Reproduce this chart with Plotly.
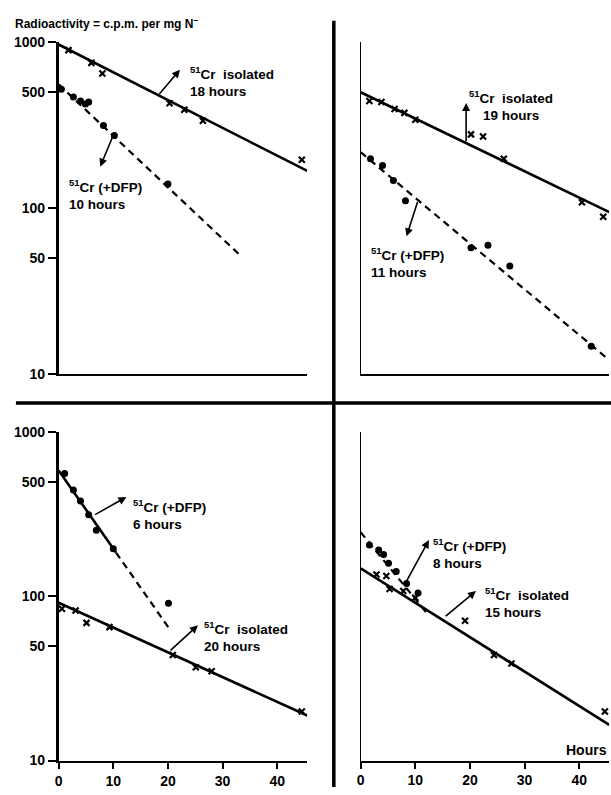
import plotly.graph_objects as go

# ---------------- data ----------------
# Panel A (top-left)
A_iso_x = [1.8, 6.0, 8.0, 20.3, 23.0, 26.4, 44.5]
A_iso_y = [897, 752, 648, 430, 392, 337, 196]
A_iso_fit_x = [0, 45.5]
A_iso_fit_y = [970, 168]
A_dfp_x = [0.5, 2.7, 4.0, 4.9, 5.5, 8.2, 10.2, 20.0]
A_dfp_y = [521, 468, 443, 425, 437, 315, 275, 140]
A_dfp_fit_x = [0, 33]
A_dfp_fit_y = [558, 53]

# Panel B (top-right)
B_iso_x = [1.6, 3.8, 6.2, 8.0, 10.0, 20.2, 22.4, 26.2, 40.5, 44.4]
B_iso_y = [443, 437, 397, 376, 342, 279, 271, 199, 109, 89]
B_iso_fit_x = [0, 45.5]
B_iso_fit_y = [500, 95]
B_dfp_x = [1.8, 4.0, 6.0, 8.2, 20.2, 23.3, 27.3, 42.2]
B_dfp_y = [199, 181, 147, 111, 58, 60, 45, 14.8]
B_dfp_fit_x = [0, 45.5]
B_dfp_fit_y = [218, 12.2]

# Panel C (bottom-left)
C_dfp_x = [1.1, 2.7, 4.0, 5.5, 6.9, 10.0, 20.1]
C_dfp_y = [561, 445, 382, 315, 253, 195, 91]
C_dfp_solid_x = [0, 10.5]
C_dfp_solid_y = [585, 185]
C_dfp_dash_x = [10.5, 20.2]
C_dfp_dash_y = [185, 64]
C_iso_x = [0.6, 3.1, 5.1, 9.3, 20.9, 25.1, 28.0, 44.5]
C_iso_y = [84, 82, 69, 65, 44, 37, 35, 19.9]
C_iso_fit_x = [0, 45.5]
C_iso_fit_y = [91.5, 18.8]

# Panel D (bottom-right)
D_dfp_x = [1.6, 3.3, 4.2, 5.1, 6.5, 8.4, 10.5]
D_dfp_y = [206, 192, 180, 159, 142, 120, 105]
D_dfp_fit_x = [0, 12]
D_dfp_fit_y = [246, 80]
D_iso_x = [2.9, 4.7, 5.3, 7.8, 10.0, 19.1, 24.4, 27.6, 44.7]
D_iso_y = [136, 133, 111, 108, 98, 71, 44, 39, 19.9]
D_iso_fit_x = [0, 45.5]
D_iso_fit_y = [148, 16.5]

y_tickvals = [10, 50, 100, 500, 1000]
y_ticktext = ["10", "50", "100", "500", "1000"]
x_tickvals = [0, 10, 20, 30, 40]
x_ticktext = ["0", "10", "20", "30", "40"]

# ---------------- figure ----------------
W, H = 611, 795
FONT = "Liberation Sans, Arial, sans-serif"

fig = go.Figure()

def cross(x, y, ax):
    fig.add_trace(go.Scatter(x=x, y=y, mode="markers", xaxis="x" + ax, yaxis="y" + ax,
                             marker=dict(symbol="x-thin", size=6, line=dict(color="black", width=2.2)),
                             showlegend=False, hoverinfo="skip", cliponaxis=False))

def dots(x, y, ax):
    fig.add_trace(go.Scatter(x=x, y=y, mode="markers", xaxis="x" + ax, yaxis="y" + ax,
                             marker=dict(symbol="circle", size=7, color="black"),
                             showlegend=False, hoverinfo="skip", cliponaxis=False))

def line(x, y, ax, dash="solid", width=2.6):
    fig.add_trace(go.Scatter(x=x, y=y, mode="lines", xaxis="x" + ax, yaxis="y" + ax,
                             line=dict(color="black", width=width, dash=dash),
                             showlegend=False, hoverinfo="skip"))

DASH = "7px,5px"
# A
line(A_iso_fit_x, A_iso_fit_y, "")
line(A_dfp_fit_x, A_dfp_fit_y, "", DASH, 2.2)
cross(A_iso_x, A_iso_y, "")
dots(A_dfp_x, A_dfp_y, "")
# B
line(B_iso_fit_x, B_iso_fit_y, "2")
line(B_dfp_fit_x, B_dfp_fit_y, "2", DASH, 2.2)
cross(B_iso_x, B_iso_y, "2")
dots(B_dfp_x, B_dfp_y, "2")
# C
line(C_dfp_solid_x, C_dfp_solid_y, "3")
line(C_dfp_dash_x, C_dfp_dash_y, "3", DASH, 2.2)
line(C_iso_fit_x, C_iso_fit_y, "3")
dots(C_dfp_x, C_dfp_y, "3")
cross(C_iso_x, C_iso_y, "3")
# D
line(D_dfp_fit_x, D_dfp_fit_y, "4", DASH, 2.2)
line(D_iso_fit_x, D_iso_fit_y, "4")
dots(D_dfp_x, D_dfp_y, "4")
cross(D_iso_x, D_iso_y, "4")

# ---------------- axes ----------------
def px_x(p):
    return p / W

def px_y(p):
    return 1 - p / H

xl = [px_x(55), px_x(55 + 5.5 * 45.5)]
xr = [px_x(359), px_x(359 + 5.5 * 45.5)]
yt = [px_y(374), px_y(35)]
yb = [px_y(768), px_y(433)]

tickfont = dict(family=FONT, size=14, color="black", weight="bold")

def xaxis(dom, anchor, labels, lw):
    d = dict(domain=dom, anchor=anchor, range=[0, 45.5], showgrid=False, zeroline=False,
             showline=True, linecolor="black", linewidth=lw, fixedrange=True)
    if labels:
        d.update(tickvals=x_tickvals, ticktext=x_ticktext, ticks="outside", ticklen=6,
                 tickwidth=2, tickcolor="black", tickfont=tickfont, showticklabels=True)
    else:
        d.update(ticks="", showticklabels=False)
    return d

def yaxis(dom, anchor, labels, lw):
    d = dict(domain=dom, anchor=anchor, type="log", range=[1, 3], showgrid=False,
             zeroline=False, showline=True, linecolor="black", linewidth=lw, fixedrange=True)
    if labels:
        d.update(tickvals=y_tickvals, ticktext=y_ticktext, ticks="outside", ticklen=8,
                 tickwidth=2, tickcolor="black", tickfont=tickfont, showticklabels=True)
    else:
        d.update(ticks="", showticklabels=False)
    return d

fig.update_layout(
    width=W, height=H, autosize=False,
    margin=dict(l=0, r=0, t=0, b=0),
    paper_bgcolor="white", plot_bgcolor="white",
    font=dict(family=FONT, color="black"),
    xaxis=xaxis(xl, "y", False, 2.2), yaxis=yaxis(yt, "x", True, 2.6),
    xaxis2=xaxis(xr, "y2", False, 1.6), yaxis2=yaxis(yt, "x2", False, 1.3),
    xaxis3=xaxis(xl, "y3", True, 2.4), yaxis3=yaxis(yb, "x3", True, 2.6),
    xaxis4=xaxis(xr, "y4", True, 2.2), yaxis4=yaxis(yb, "x4", False, 1.3),
)

# ---------------- dividing cross ----------------
fig.add_shape(type="line", xref="paper", yref="paper", x0=px_x(332), x1=px_x(332),
              y0=0, y1=px_y(13), line=dict(color="black", width=3.5))
fig.add_shape(type="line", xref="paper", yref="paper", x0=px_x(12), x1=1,
              y0=px_y(403), y1=px_y(403), line=dict(color="black", width=3.5))

# ---------------- annotations ----------------
AF = dict(family=FONT, size=13.5, color="black", weight="bold")
NB = "\u00a0"

def label(text, x, ly, ax, xanchor="left", align="left"):
    fig.add_annotation(text=text, x=x, y=ly, xref="x" + ax, yref="y" + ax,
                       xanchor=xanchor, yanchor="top", align=align, showarrow=False,
                       font=AF)

def arrow(hx, hy, tx, ty, ax):
    fig.add_annotation(text="", x=hx, y=hy, ax=tx, ay=ty, xref="x" + ax, yref="y" + ax,
                       axref="x" + ax, ayref="y" + ax, showarrow=True, arrowhead=2,
                       arrowsize=1, arrowwidth=1.6, arrowcolor="black", standoff=0,
                       startstandoff=0)

iso = "<sup>51</sup>Cr" + NB + NB + "isolated"
dfp = "<sup>51</sup>Cr" + NB + "(+DFP)"

# A
label(iso + "<br>18 hours", 23.6, 2.882, "")
arrow(22.2, 2.835, 18.2, 2.680, "")
label(dfp + "<br>10 hours", 1.45, 2.2035, "")
arrow(7.6, 2.251, 10.0, 2.440, "")
# B
label(iso + "<br>19 hours", 27.5, 2.735, "2", xanchor="center", align="center")
arrow(19.3, 2.634, 19.3, 2.395, "2")
label(dfp + "<br>11 hours", 1.45, 1.791, "2")
arrow(8.4, 1.832, 10.5, 2.047, "2")
# C
label(dfp + "<br>6 hours", 13.3, 2.618, "3")
arrow(12.4, 2.606, 6.4, 2.493, "3")
label(iso + "<br>20 hours", 26.2, 1.872, "3")
arrow(25.5, 1.824, 20.2, 1.663, "3")
# D
label(dfp + "<br>8 hours", 12.9, 2.379, "4")
arrow(12.5, 2.343, 8.2, 2.081, "4")
label(iso + "<br>15 hours", 22.4, 2.081, "4")
arrow(21.1, 2.033, 15.3, 1.872, "4")

# Title and axis word
fig.add_annotation(text="Radioactivity = c.p.m. per mg N<sup>\u2013</sup>", xref="paper", yref="paper",
                   x=px_x(10), y=px_y(6), xanchor="left", yanchor="top", showarrow=False,
                   borderpad=0, font=dict(family=FONT, size=12, color="black", weight="bold"))
fig.add_annotation(text="Hours", xref="paper", yref="paper", x=px_x(609), y=px_y(757),
                   xanchor="right", yanchor="middle", showarrow=False,
                   font=dict(family=FONT, size=14, color="black", weight="bold"))

fig.write_html("out.html")
